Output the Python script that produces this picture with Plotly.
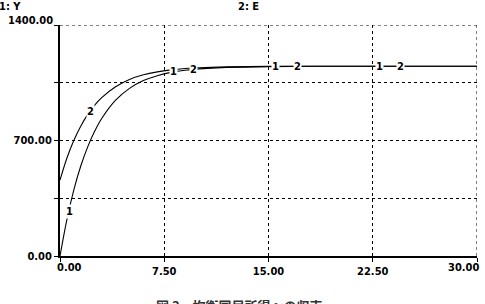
import plotly.graph_objects as go

# Data
t = [0, 0.5, 1, 1.5, 2, 2.5, 3, 4, 5, 6, 7, 8, 9, 10, 12, 15, 20, 25, 30]
Y = [0, 222, 402, 547, 663, 757, 833, 944, 1016, 1063, 1093, 1113, 1126, 1134, 1143, 1148, 1150, 1150, 1150]
E = [460, 594, 701, 788, 858, 915, 960, 1026, 1070, 1098, 1116, 1128, 1136, 1141, 1146, 1149, 1150, 1150, 1150]

x_ticks = [0, 7.5, 15, 22.5, 30]
x_ticktext = ["", "7.50", "15.00", "22.50", ""]
y_ticks = [0, 350, 700, 1050, 1400]
y_ticktext = ["0.00", "", "700.00", "", ""]

# curve-label positions (time, value, label)
lab_t = [0.65, 2.2, 8.2, 9.6, 15.5, 17.1, 23.0, 24.5]
lab_v = [270, 875, 1118, 1131, 1148, 1149, 1150, 1150]
lab_s = ["1", "2", "1", "2", "1", "2", "1", "2"]

FONT = "DejaVu Sans Condensed, sans-serif"
TF = dict(family=FONT, size=11, color="black")

fig = go.Figure()
fig.add_trace(go.Scatter(x=t, y=Y, mode="lines", line=dict(color="black", width=1.1, shape="spline"), name="Y"))
fig.add_trace(go.Scatter(x=t, y=E, mode="lines", line=dict(color="black", width=1.1, shape="spline"), name="E"))

for tx, v, s in zip(lab_t, lab_v, lab_s):
    fig.add_annotation(x=tx, y=v, text="<b>" + s + "</b>", showarrow=False, bgcolor="white",
                       font=TF, borderpad=0)

# dotted border gridlines at the range ends
fig.add_shape(type="line", x0=30, x1=30, y0=0, y1=1400, xref="x", yref="y",
              line=dict(color="black", width=1, dash="dot"))
fig.add_shape(type="line", x0=0, x1=30, y0=1400, y1=1400, xref="x", yref="y",
              line=dict(color="black", width=1, dash="dot"))

# end tick labels
fig.add_annotation(x=0, y=0, xref="x", yref="y", text="<b>0.00</b>", showarrow=False,
                   xanchor="left", yanchor="top", xshift=-5, yshift=-3, font=TF)
fig.add_annotation(x=30, y=0, xref="x", yref="y", text="<b>30.00</b>", showarrow=False,
                   xanchor="right", yanchor="top", xshift=4, yshift=-3, font=TF)
fig.add_annotation(x=0, y=1400, xref="x", yref="y", text="<b>1400.00</b>", showarrow=False,
                   xanchor="right", yanchor="bottom", xshift=-6, yshift=-3, borderpad=0, font=TF)

fig.add_annotation(x=0, y=1, xref="paper", yref="paper", text="<b>1: Y</b>", showarrow=False,
                   xanchor="left", yanchor="bottom", xshift=-62, yshift=11, borderpad=0, font=TF)
fig.add_annotation(x=0.425, y=1, xref="paper", yref="paper", text="<b>2: E</b>", showarrow=False,
                   xanchor="left", yanchor="bottom", yshift=11, borderpad=0, font=TF)
fig.add_annotation(x=0.43, y=-0.215, xref="paper", yref="paper", text="<b>図 3　均衡国民所得への収束</b>",
                   showarrow=False, xanchor="center", yanchor="middle",
                   font=dict(family="Noto Sans CJK JP", size=13, color="#333"))

fig.update_xaxes(range=[0, 30], tickvals=x_ticks, ticktext=["<b>%s</b>" % s if s else "" for s in x_ticktext],
                 showgrid=True, gridcolor="black", griddash="dot", gridwidth=1, showline=True,
                 linecolor="black", linewidth=2, ticks="outside", ticklen=4, tickcolor="black",
                 zeroline=False, tickfont=TF)
fig.update_yaxes(range=[0, 1400], tickvals=y_ticks, ticktext=["<b>%s</b>" % s if s else "" for s in y_ticktext],
                 showgrid=True, gridcolor="black", griddash="dot", gridwidth=1, showline=True,
                 linecolor="black", linewidth=2, ticks="outside", ticklen=4, tickcolor="black",
                 zeroline=False, tickfont=TF)

fig.update_layout(width=485, height=304, margin=dict(l=60, r=8, t=25, b=48),
                  paper_bgcolor="white", plot_bgcolor="white", showlegend=False,
                  font=dict(family=FONT, color="black"))
fig.write_html("out.html")
